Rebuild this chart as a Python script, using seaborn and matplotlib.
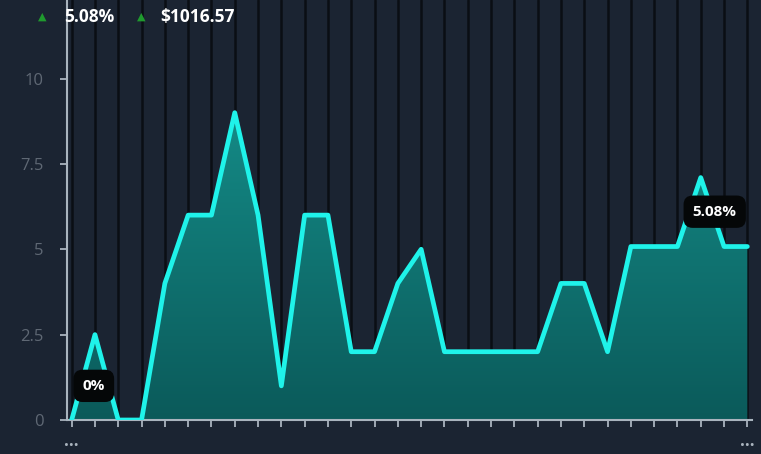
import numpy as np
import pandas as pd
import matplotlib.pyplot as plt
import seaborn as sns
from matplotlib.patches import Polygon
from matplotlib.colors import LinearSegmentedColormap

# data
values = [0, 2.5, 0, 0, 4, 6, 6, 9, 6, 1, 6, 6, 2, 2, 4, 5, 2, 2, 2, 2, 2,
          4, 4, 2, 5.08, 5.08, 5.08, 7.1, 5.08, 5.08]
ytick_vals = [0, 2.5, 5, 7.5, 10]
header_pct = "5.08%"
header_money = "$1016.57"
first_label = "0%"
last_label = "5.08%"

df = pd.DataFrame({"idx": np.arange(len(values)), "val": values})

bg = "#1b2432"
sns.set_theme(style="dark", rc={"axes.facecolor": bg, "figure.facecolor": bg})
plt.rcParams['font.family'] = ['Open Sans', 'DejaVu Sans']

fig = plt.figure(figsize=(7.61, 4.54), dpi=100)
ax = fig.add_axes([67 / 761, 34 / 454, (752 - 67) / 761, 420 / 454])
ax.set_facecolor(bg)

# vertical dark grid lines at each point
for i in df["idx"]:
    ax.axvline(i, color="#0a0e14", lw=1.8, zorder=1)

# gradient fill under the line
n = len(values)
ymax = 12.3
xs = list(df["idx"]) + [n - 1, 0]
ys = list(df["val"]) + [0, 0]
poly = Polygon(np.column_stack([xs, ys]), closed=True, facecolor="none", edgecolor="none")
ax.add_patch(poly)
grad = np.linspace(0, 1, 256).reshape(-1, 1)
cmap = LinearSegmentedColormap.from_list("tealgrad", ["#0b5a5a", "#148a86"])
img = ax.imshow(grad, cmap=cmap, aspect="auto", origin="lower",
                extent=[-0.2, n - 1, 0, max(values)], zorder=2)
img.set_clip_path(poly)

sns.lineplot(data=df, x="idx", y="val", ax=ax, color="#1ff3ea", lw=3.4, zorder=4)

ax.set_xlim(-0.2, n - 1 + 0.2)
ax.set_ylim(0, ymax)
ax.set_xlabel("")
ax.set_ylabel("")

ax.set_yticks(ytick_vals)
ax.set_yticklabels(["%g" % v for v in ytick_vals], color="#5f6874", fontsize=12)
xlabels = [""] * n
xlabels[0] = "..."
xlabels[-1] = "..."
ax.set_xticks(df["idx"])
ax.set_xticklabels(xlabels, color="#aab4be", fontsize=12, fontweight="bold")
ax.tick_params(axis="y", left=True, length=5, width=1.3, color="#a9b4be",
               direction="out", pad=12)
ax.tick_params(axis="x", bottom=True, length=5, width=1.3, color="#a9b4be",
               direction="out", pad=4)
for s in ["top", "right"]:
    ax.spines[s].set_visible(False)
for s in ["left", "bottom"]:
    ax.spines[s].set_visible(True)
    ax.spines[s].set_color("#a9b4be")
    ax.spines[s].set_linewidth(1.5)
ax.grid(False)

# point labels
box = dict(boxstyle="round,pad=0.6", fc="#050708", ec="none")
ax.text(0.95, 1.0, first_label, color="white", fontsize=11, fontweight="bold",
        ha="center", va="center", bbox=box, zorder=6)
ax.text(27.6, 6.1, last_label, color="white", fontsize=11, fontweight="bold",
        ha="center", va="center", bbox=box, zorder=6)

# header
fig.text(42 / 761, 1 - 17 / 454, "\u25B2", color="#1f9a2e", fontsize=8, ha="center", va="center")
fig.text(64 / 761, 1 - 17 / 454, header_pct, color="white", fontsize=12.5, fontweight="bold",
         ha="left", va="center")
fig.text(141 / 761, 1 - 17 / 454, "\u25B2", color="#1f9a2e", fontsize=8, ha="center", va="center")
fig.text(160 / 761, 1 - 17 / 454, header_money, color="white", fontsize=12.5, fontweight="bold",
         ha="left", va="center")

fig.savefig("out.png", dpi=100, facecolor=bg)
